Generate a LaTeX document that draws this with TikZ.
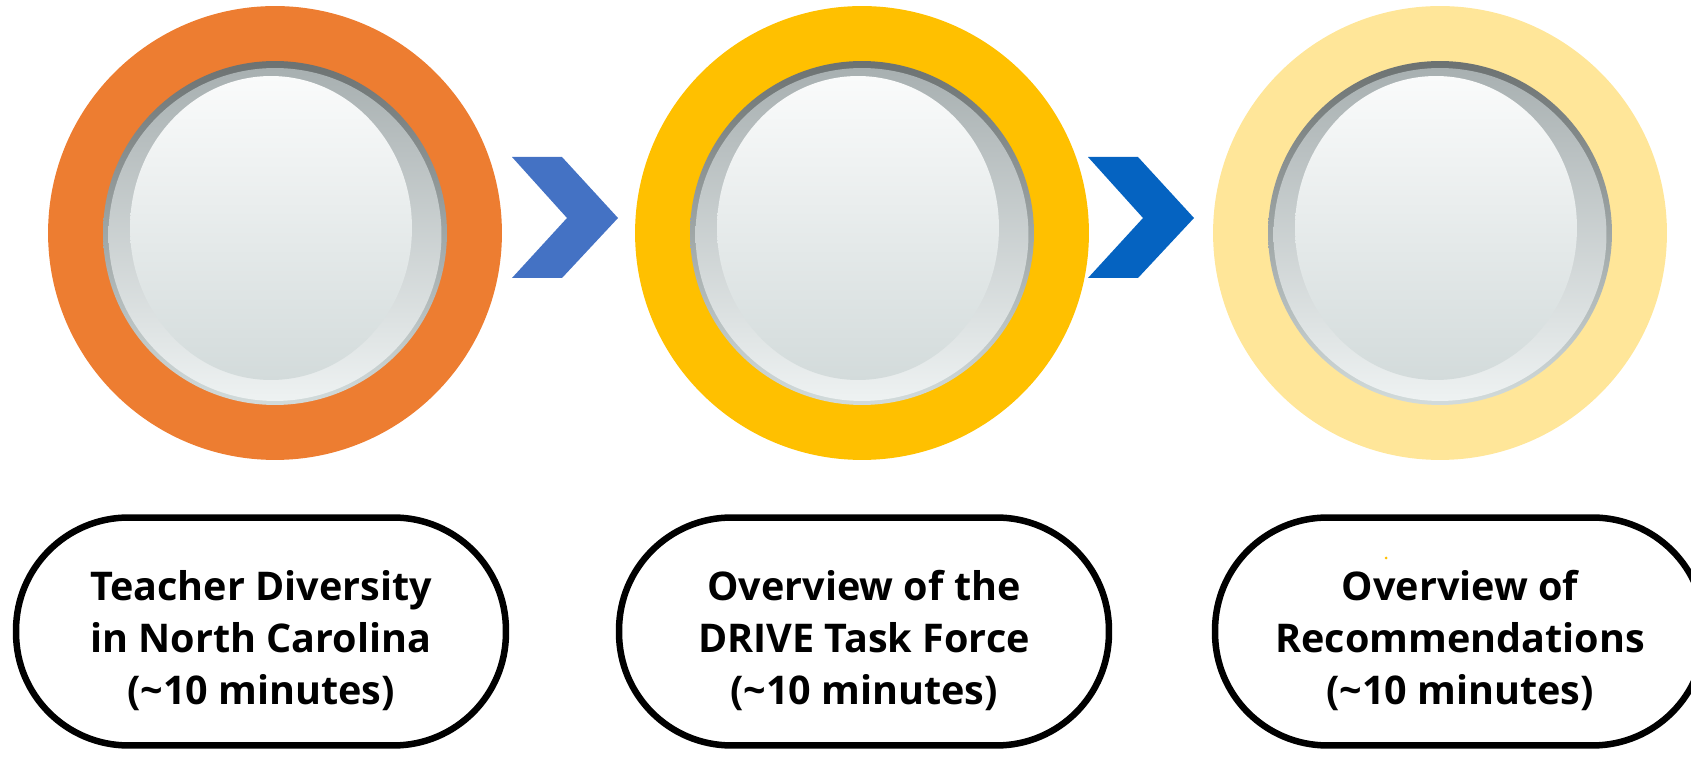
\documentclass[tikz,border=0pt]{standalone}
\usepackage{fontspec}
\setmainfont{Open Sans}
\usepackage{tikz}
\usetikzlibrary{shapes.geometric,positioning}
\usepackage{xcolor}
\definecolor{ringorange}{HTML}{ED7D31}
\definecolor{ringgold}{HTML}{FFC000}
\definecolor{ringpale}{HTML}{FFE699}
\definecolor{chevblue}{HTML}{4472C4}
\definecolor{chevdeep}{HTML}{0563C1}
\definecolor{rimtop}{HTML}{6C7272}
\definecolor{rimbot}{HTML}{D2DBDB}
\definecolor{bodytop}{HTML}{A8B0B1}
\definecolor{bodymid}{HTML}{C3CBCC}
\definecolor{bodybot}{HTML}{EEF2F2}
\definecolor{glosstop}{HTML}{FAFBFB}
\definecolor{glossbot}{HTML}{D3DBDB}

\begin{document}
\begin{tikzpicture}[
  x=0.02cm, y=-0.02cm,
  ring/.style={circle, inner sep=0pt, minimum size=9.08cm},
  rim/.style={circle, inner sep=0pt, minimum size=6.88cm,
              top color=rimtop, bottom color=rimbot},
  body/.style={circle, inner sep=0pt, minimum size=6.66cm,
               top color=bodytop, middle color=bodymid, bottom color=bodybot},
  gloss/.style={ellipse, inner sep=0pt, minimum width=5.64cm, minimum height=6.08cm,
                top color=glosstop, bottom color=glossbot},
  pill/.style={rectangle, draw, line width=0.13cm, rounded corners=2.25cm,
               fill=white, minimum width=9.8cm, minimum height=4.56cm},
  caption/.style={align=center, inner sep=0pt,
                  font=\fontsize{22.5}{29.8}\selectfont\bfseries}
]
\useasboundingbox (0,0) rectangle (1691,759);

% stages
\node[ring, fill=ringorange] (c1) at (275,233) {};
\node[ring, fill=ringgold]   (c2) at (862,233) {};
\node[ring, fill=ringpale]   (c3) at (1440,233) {};

\node[rim]  (r1) at (c1) {};
\node[body] (b1) at ([yshift=-0.03cm]c1) {};
\node[gloss] (g1) at ([xshift=-0.08cm,yshift=0.1cm]c1) {};

\node[rim]  (r2) at (c2) {};
\node[body] (b2) at ([yshift=-0.03cm]c2) {};
\node[gloss] (g2) at ([xshift=-0.08cm,yshift=0.1cm]c2) {};

\node[rim]  (r3) at (c3) {};
\node[body] (b3) at ([yshift=-0.03cm]c3) {};
\node[gloss] (g3) at ([xshift=-0.08cm,yshift=0.1cm]c3) {};

% chevrons
\coordinate (a1) at (512,157);
\coordinate (a2) at (1088,157);
\fill[chevblue] (a1) -- ++(50,0) -- ++(56,61) -- ++(-56,60) -- ++(-50,0) -- ++(55,-60) -- cycle;
\fill[chevdeep] (a2) -- ++(50,0) -- ++(56,61) -- ++(-56,60) -- ++(-50,0) -- ++(55,-60) -- cycle;

% labels
\node[pill] (p1) at (261,631.5) {};
\node[pill] (p2) at (864,631.5) {};
\node[pill] (p3) at (1460,631.5) {};

\node[caption] (t1) at ([yshift=-0.18cm]p1.center) {Teacher Diversity\\in North Carolina\\(\textasciitilde10 minutes)};
\node[caption] (t2) at ([yshift=-0.18cm]p2.center) {Overview of the\\DRIVE Task Force\\(\textasciitilde10 minutes)};
\node[caption] (t3) at ([yshift=-0.18cm]p3.center) {Overview of\\Recommendations\\(\textasciitilde10 minutes)};

\fill[ringgold] (1386,558) circle (1.5);

\end{tikzpicture}
\end{document}
